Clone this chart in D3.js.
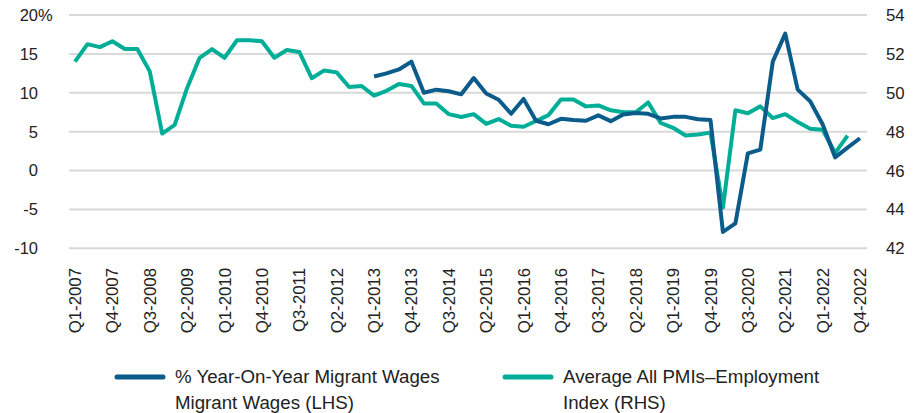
<!DOCTYPE html>
<html>
<head>
<meta charset="utf-8">
<script src="https://cdn.jsdelivr.net/npm/d3@7"></script>
<style>
  body { margin: 0; background: #fff; }
  svg { display: block; font-family: "Liberation Sans", Arial, sans-serif; }
</style>
</head>
<body>
<svg id="chart" width="922" height="413"></svg>
<script>
// quarters Q1-2007 .. Q4-2022
const years = d3.range(2007, 2023);
const quarters = years.flatMap(y => [1, 2, 3, 4].map(q => `Q${q}-${y}`));

const tickLabels = ['Q1-2007', 'Q4-2007', 'Q3-2008', 'Q2-2009', 'Q1-2010', 'Q4-2010', 'Q3-2011',
  'Q2-2012', 'Q1-2013', 'Q4-2013', 'Q3-2014', 'Q2-2015', 'Q1-2016', 'Q4-2016', 'Q3-2017',
  'Q2-2018', 'Q1-2019', 'Q4-2019', 'Q3-2020', 'Q2-2021', 'Q1-2022', 'Q4-2022'];

// % YoY migrant wages (LHS), starts Q1-2013
const wages = [
  null, null, null, null, null, null, null, null, null, null, null, null,
  null, null, null, null, null, null, null, null, null, null, null, null,
  12.1, 12.5, 13.0, 14.0, 10.0, 10.4, 10.2, 9.8, 11.9, 9.9, 9.1, 7.3,
  9.2, 6.4, 5.95, 6.65, 6.5, 6.4, 7.1, 6.35, 7.2, 7.4, 7.3, 6.7,
  6.9, 6.9, 6.6, 6.5, -7.9, -6.8, 2.2, 2.7, 14.0, 17.6, 10.4, 8.9,
  5.95, 1.7, 2.95, 4.15
];

// average all PMIs - employment index (RHS), ends Q3-2022
const pmi = [
  51.6, 52.5, 52.35, 52.65, 52.25, 52.25, 51.1, 47.9, 48.35, 50.25, 51.8, 52.25,
  51.8, 52.7, 52.7, 52.65, 51.8, 52.2, 52.1, 50.75, 51.15, 51.05, 50.3, 50.35,
  49.85, 50.1, 50.45, 50.35, 49.45, 49.45, 48.9, 48.75, 48.9, 48.4, 48.65, 48.3,
  48.25, 48.55, 48.85, 49.65, 49.65, 49.3, 49.35, 49.1, 49.0, 49.0, 49.5, 48.45,
  48.2, 47.8, 47.85, 47.95, 44.1, 49.1, 48.95, 49.3, 48.7, 48.9, 48.5, 48.15,
  48.1, 46.9, 47.8, null
];

const leftTicks = [-10, -5, 0, 5, 10, 15, 20];
const rightTicks = [42, 44, 46, 48, 50, 52, 54];

const blue = '#0b5c8a';
const teal = '#00ae98';

const svg = d3.select('#chart');

const x = d3.scalePoint().domain(quarters).range([75, 860]);
const yL = d3.scaleLinear().domain([-10, 20]).range([248.3, 15]);
const yR = d3.scaleLinear().domain([42, 54]).range([248.3, 15]);

// gridlines
svg.append('g')
  .selectAll('line')
  .data(leftTicks)
  .join('line')
  .attr('x1', 69)
  .attr('x2', 867)
  .attr('y1', d => yL(d))
  .attr('y2', d => yL(d))
  .attr('stroke', '#d9d9d9')
  .attr('stroke-width', 2);

// left axis labels
const leftG = svg.append('g')
  .attr('font-size', 16.5)
  .attr('fill', '#222');
leftG.selectAll('text')
  .data(leftTicks)
  .join('text')
  .attr('x', 38)
  .attr('y', d => yL(d))
  .attr('dy', '0.36em')
  .attr('text-anchor', 'end')
  .text(d => d);
leftG.append('text')
  .attr('x', 38)
  .attr('y', yL(20))
  .attr('dy', '0.36em')
  .text('%');

// right axis labels
svg.append('g')
  .attr('font-size', 16.8)
  .attr('fill', '#222')
  .selectAll('text')
  .data(rightTicks)
  .join('text')
  .attr('x', 886)
  .attr('y', d => yR(d))
  .attr('dy', '0.36em')
  .text(d => d);

// x labels, every third quarter
svg.append('g')
  .attr('font-size', 16.8)
  .attr('fill', '#222')
  .selectAll('text')
  .data(tickLabels)
  .join('text')
  .attr('transform', d => `translate(${x(d)},268) rotate(-90)`)
  .attr('dy', '0.36em')
  .attr('text-anchor', 'end')
  .text(d => d);

// lines
const pmiLine = d3.line()
  .defined(d => d != null)
  .x((d, i) => x(quarters[i]))
  .y(d => yR(d));

const wageLine = d3.line()
  .defined(d => d != null)
  .x((d, i) => x(quarters[i]))
  .y(d => yL(d));

svg.append('path')
  .attr('d', pmiLine(pmi))
  .attr('fill', 'none')
  .attr('stroke', teal)
  .attr('stroke-width', 4)
  .attr('stroke-linejoin', 'round');

svg.append('path')
  .attr('d', wageLine(wages))
  .attr('fill', 'none')
  .attr('stroke', blue)
  .attr('stroke-width', 4)
  .attr('stroke-linejoin', 'round');

// legend
const legend = [
  { color: blue, x: 117, lines: ['% Year-On-Year Migrant Wages', 'Migrant Wages (LHS)'] },
  { color: teal, x: 505, lines: ['Average All PMIs\u2013Employment', 'Index (RHS)'] }
];

const lg = svg.append('g').attr('font-size', 18.7).attr('fill', '#222');
legend.forEach(item => {
  lg.append('line')
    .attr('x1', item.x)
    .attr('x2', item.x + 46)
    .attr('y1', 377)
    .attr('y2', 377)
    .attr('stroke', item.color)
    .attr('stroke-width', 5)
    .attr('stroke-linecap', 'round');
  item.lines.forEach((t, j) => {
    lg.append('text')
      .attr('x', item.x + 58)
      .attr('y', 383 + j * 26)
      .text(t);
  });
});
</script>
</body>
</html>
